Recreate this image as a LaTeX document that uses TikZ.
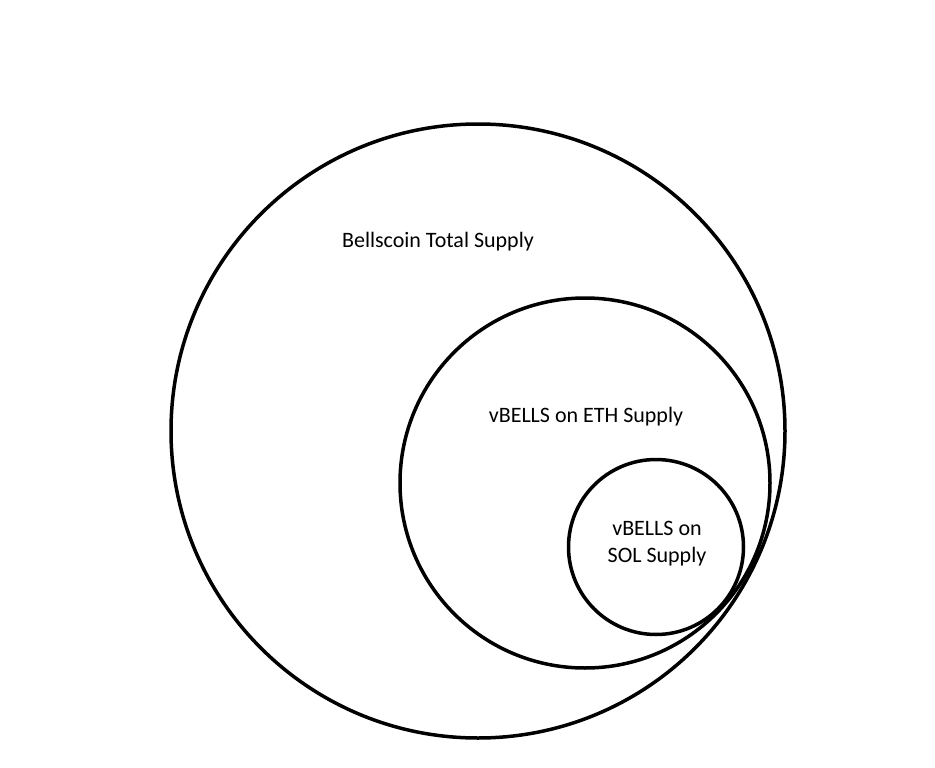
\documentclass[tikz,border=0pt]{standalone}
\usepackage{fontspec}
\setmainfont{Carlito}
\usepackage{tikz}
\usetikzlibrary{positioning}

\begin{document}
\begin{tikzpicture}[
    x=1pt, y=-1pt,
    ring/.style={circle, draw, line width=3.5pt, inner sep=0pt},
    label/.style={font=\fontsize{22}{27}\selectfont, align=center}
]
\useasboundingbox (0,0) rectangle (935,768);

\node[ring, minimum size=614pt] (total) at (478,431) {};
\node[ring, minimum size=370pt] (eth) at (585,483) {};
\node[ring, minimum size=175pt] (sol) at (656,547) {};

% texts
\node[label] (totaltext) at (438,242) {Bellscoin Total Supply};
\node[label] (ethtext) at (586,417) {vBELLS on ETH Supply};
\node[label] (soltext) at (657,544) {vBELLS on\\SOL Supply};

\end{tikzpicture}
\end{document}
